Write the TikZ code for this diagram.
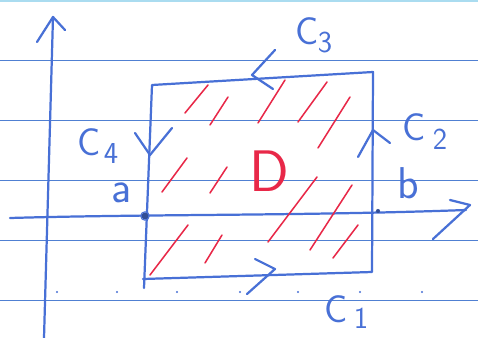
\documentclass[tikz,border=0pt]{standalone}
\usetikzlibrary{positioning}
\definecolor{inkblue}{RGB}{72,112,214}
\definecolor{ruleblue}{RGB}{80,128,210}
\definecolor{inkred}{RGB}{232,40,72}
\definecolor{bandblue}{RGB}{170,220,240}

\begin{document}
\begin{tikzpicture}[
    x=0.03cm, y=-0.03cm,
    font=\sffamily,
    pen/.style={draw=inkblue, line width=1.9pt, line cap=round, line join=round},
    rule/.style={draw=ruleblue, line width=0.8pt},
    hatch/.style={draw=inkred, line width=1.3pt, line cap=round},
    lbl/.style={text=inkblue, inner sep=0pt, font=\sffamily\fontsize{33}{33}\selectfont},
    sublbl/.style={text=inkblue, inner sep=0pt, font=\sffamily\fontsize{26}{26}\selectfont},
    ptlbl/.style={text=inkblue, inner sep=0pt, font=\sffamily\fontsize{38}{38}\selectfont},
    speck/.style={circle, fill=inkblue, inner sep=0pt, minimum size=2pt}
]

    % Paper
    \useasboundingbox (0,0) rectangle (478,338);
    \fill[white] (0,0) rectangle (478,338);
    \draw[draw=bandblue, line width=2pt] (0,1) -- (478,1);
    \draw[rule] (0,60) -- (478,60);
    \draw[rule] (0,120) -- (478,120);
    \draw[rule] (0,180) -- (478,180);
    \draw[rule] (0,240) -- (478,240);
    \draw[rule] (0,300) -- (478,300);

    % Dotted marks along the bottom
    \node (m1) [speck] at (57,292) {};
    \node (m2) [speck] at (117,292) {};
    \node (m3) [speck] at (177,292) {};
    \node (m4) [speck] at (240,292) {};
    \node (m5) [speck] at (298,292) {};
    \node (m6) [speck] at (360,292) {};
    \node (m7) [speck] at (422,292) {};

    % Axes
    \coordinate (ybot) at (44,338);
    \coordinate (ytop) at (53,17);
    \coordinate (xleft) at (10,218);
    \coordinate (xright) at (466,210);
    \draw[pen] (ybot) -- (ytop);
    \draw[pen] (37,42) -- (ytop) -- (65,30);
    \draw[pen] (xleft) .. controls (150,214) and (300,216) .. (xright);
    \draw[pen] (450,200) -- (470,205) -- (433,239);

    % Red hatching of D
    \draw[hatch] (185,113) -- (208,85);
    \draw[hatch] (210,125) -- (228,97);
    \draw[hatch] (258,123) -- (285,80);
    \draw[hatch] (298,122) -- (327,82);
    \draw[hatch] (318,148) -- (350,97);
    \draw[hatch] (162,192) -- (187,158);
    \draw[hatch] (210,193) -- (227,167);
    \draw[hatch] (268,242) -- (317,177);
    \draw[hatch] (310,250) -- (352,185);
    \draw[hatch] (333,258) -- (358,225);
    \draw[hatch] (150,275) -- (188,225);
    \draw[hatch] (205,263) -- (222,235);

    % Boundary of D
    \coordinate (tl) at (152,85);
    \coordinate (tr) at (373,72);
    \coordinate (br) at (372,272);
    \coordinate (bl) at (143,279);
    \coordinate (lend) at (144,288);
    \draw[pen] (bl) -- (br) -- (tr) -- (tl) -- (lend);

    % Orientation marks
    \draw[pen] (275,50) -- (252,75) -- (273,89);
    \draw[pen] (135,133) -- (150,155) -- (172,128);
    \draw[pen] (358,157) -- (373,130) -- (390,143);
    \draw[pen] (255,259) -- (275,269) -- (247,294);

    % Points a and b
    \node (a) [circle, fill=inkblue!70!black, inner sep=0pt, minimum size=6pt] at (145,216) {};
    \draw[pen, line width=1pt] (a) circle (4.2);
    \node (b) [circle, fill=inkblue!70!black, inner sep=0pt, minimum size=3.5pt] at (378,211) {};
    \node (alab) [ptlbl] at (122,193) {a};
    \node (blab) [ptlbl] at (408,183) {b};

    % Curve labels
    \node (c3) [lbl] at (307,31) {C};
    \node (c3i) [sublbl] at (325,43) {3};
    \node (c2) [lbl] at (414,127) {C};
    \node (c2i) [sublbl] at (440,139) {2};
    \node (c4) [lbl] at (89,142) {C};
    \node (c4i) [sublbl] at (111,154) {4};
    \node (c1) [lbl] at (336,309) {C};
    \node (c1i) [sublbl] at (361,318) {1};

    % Region
    \node (d) [text=inkred, inner sep=0pt, font=\sffamily\fontsize{50}{50}\selectfont] at (269,171) {D};

\end{tikzpicture}
\end{document}
